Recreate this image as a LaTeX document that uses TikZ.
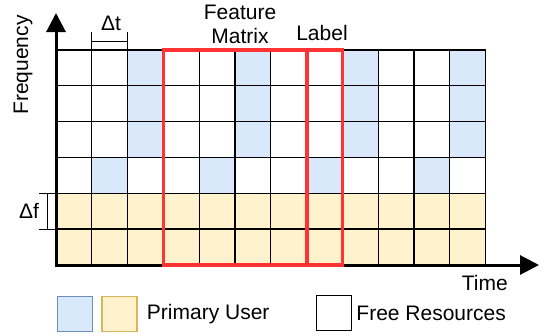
\documentclass[tikz,border=0pt]{standalone}
\usepackage{fontspec}
\setmainfont{Liberation Sans}
\usepackage{xcolor}
\usepackage{tikz}
\usetikzlibrary{arrows.meta,positioning,fit}
\definecolor{blu}{HTML}{DAE8FC}
\definecolor{bluedge}{HTML}{6C8EBF}
\definecolor{yel}{HTML}{FFF2CC}
\definecolor{yeledge}{HTML}{D6B656}
\definecolor{featred}{RGB}{255,51,51}
\tikzset{
  cell/.style={draw=black, line width=1.2pt, minimum size=35.8pt, inner sep=0pt, outer sep=0pt},
  redbox/.style={draw=featred, line width=3.8pt, inner sep=0pt},
  axis/.style={line width=3pt, {Triangle[length=19pt,width=19pt]}-{Triangle[length=19pt,width=19pt]}},
  dim/.style={line width=1pt},
  legbox/.style={line width=1.5pt, minimum size=35pt, inner sep=0pt},
  lbl/.style={inner sep=1pt, font=\fontsize{21}{24}\selectfont}
}
\begin{document}
\begin{tikzpicture}[x=1pt,y=-1pt]
\useasboundingbox (0,0) rectangle (540,335);
% grid
\foreach \i in {0,...,11}
 \foreach \j in {0,...,5} {
  \pgfmathtruncatemacro\k{mod(\i,3)}
  \def\cl{white}
  \ifnum\j>3 \def\cl{yel}\fi
  \ifnum\k=2 \ifnum\j<3 \def\cl{blu}\fi\fi
  \ifnum\k=1 \ifnum\j=3 \def\cl{blu}\fi\fi
  \node[cell, fill=\cl] (c-\i-\j) at ({73.9+35.8*\i},{67.9+35.8*\j}) {};
 }

% axes
\coordinate (o) at (56,265);
\coordinate (ytip) at (56,13);
\coordinate (xtip) at (539,265);
\draw[axis] (ytip) -- (o) -- (xtip);
\node[lbl, anchor=east] (time) at (509,283) {Time};
\node[lbl, rotate=90] (freq) at (23,65) {Frequency};

% feature matrix and label
\node[redbox, fit=(c-3-0)(c-6-5)] (feat) {};
\node[redbox, fit=(c-7-0)(c-7-5)] (lab) {};
\node[lbl, align=center] (featt) at (240,24) {Feature\\Matrix};
\node[lbl] (labt) at (322,33) {Label};

% delta t, delta f
\coordinate (t1) at ([yshift=18pt]c-1-0.north west);
\coordinate (t2) at ([yshift=18pt]c-1-0.north east);
\draw[dim] (c-1-0.north west) -- (t1);
\draw[dim] (c-1-0.north east) -- (t2);
\draw[dim] ([yshift=-9pt]t1) -- ([yshift=-9pt]t2);
\node[lbl] (dt) at (111,23) {Δt};
\coordinate (f1) at ([xshift=-17pt]c-0-4.north west);
\coordinate (f2) at ([xshift=-17pt]c-0-4.south west);
\draw[dim] (c-0-4.north west) -- (f1);
\draw[dim] (c-0-4.south west) -- (f2);
\draw[dim] ([xshift=8pt]f1) -- ([xshift=8pt]f2);
\node[lbl] (df) at (29,211) {Δf};

% legend
\node[legbox, fill=blu, draw=bluedge] (lgb) at (75,314) {};
\node[legbox, fill=yel, draw=yeledge, right=8pt of lgb] (lgy) {};
\node[lbl, right=8pt of lgy] (lgpu) {Primary User};
\node[legbox, fill=white, draw=black] (lgw) at (334,313) {};
\node[lbl, right=3pt of lgw] (lgfr) {Free Resources};
\end{tikzpicture}
\end{document}
